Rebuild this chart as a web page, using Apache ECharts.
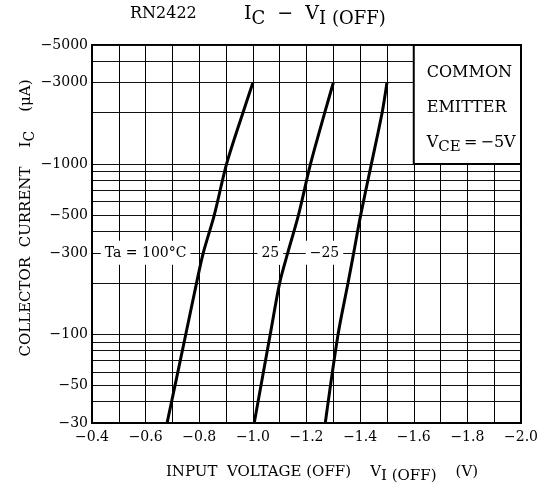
<!DOCTYPE html>
<html><head><meta charset="utf-8">
<script src="https://cdn.jsdelivr.net/npm/echarts@6/dist/echarts.min.js"></script>
<style>html,body{margin:0;padding:0;background:#fff}#c{width:550px;height:488px}</style>
</head><body><div id="c"></div>
<script>
// Input voltage V_I(OFF) (V) and collector current I_C (µA), both negative as in the chart
const vIoff100 = [-0.68, -0.75, -0.79, -0.815, -0.856, -0.902, -0.963, -1.0];
const iC100    = [-30, -100, -200, -300, -500, -1000, -2000, -3000];
const vIoff25  = [-1.005, -1.065, -1.10, -1.13, -1.17, -1.215, -1.268, -1.30];
const iC25     = [-30, -100, -200, -300, -500, -1000, -2000, -3000];
const vIoffM25 = [-1.27, -1.318, -1.355, -1.376, -1.402, -1.442, -1.482, -1.50];
const iCM25    = [-30, -100, -200, -300, -500, -1000, -2000, -3000];
const yTickLabels = [-30, -50, -100, -300, -500, -1000, -3000, -5000];
const yGridValues = [-30,-40,-50,-60,-70,-80,-90,-100,-200,-300,-400,-500,-600,-700,-800,-900,-1000,-2000,-3000,-4000,-5000];
const curveLabels = [
  {text: 'Ta = 100°C', v: -0.6, i: -300},
  {text: '25', v: -1.065, i: -300},
  {text: '−25', v: -1.267, i: -300}
];
const boxArea = {v1: -1.6, v2: -2.0, i1: -1000, i2: -5000};
const boxLines = ['COMMON', 'EMITTER', 'V{s|CE}\u2009=\u2009−5V'];

const FONT = '"DejaVu Serif", "Liberation Serif", serif';
const fmtMinus = v => '−' + String(v).replace('-', '');
const toPts = (xs, ys) => xs.map((x, k) => [x, Math.abs(ys[k])]);

const chart = echarts.init(document.getElementById('c'));
const lineSeries = (xs, ys) => ({
  type: 'line', data: toPts(xs, ys), symbol: 'none', smooth: 0.3,
  lineStyle: {color: '#000', width: 3}, z: 5, animation: false
});
const s1 = lineSeries(vIoff100, iC100);
const s2 = lineSeries(vIoff25, iC25);
const s3 = lineSeries(vIoffM25, iCM25);
s1.markPoint = {
  symbol: 'rect', symbolSize: 0, animation: false,
  data: curveLabels.map(c => ({coord: [c.v, Math.abs(c.i)], value: c.text})),
  label: {show: true, position: 'inside', formatter: p => p.value, color: '#000',
    fontFamily: FONT, fontSize: 14, backgroundColor: '#fff', padding: [5, 4]}
};
s1.markArea = {
  silent: true, animation: false,
  itemStyle: {color: '#fff', borderColor: '#000', borderWidth: 2, opacity: 1},
  label: {show: true, position: [14, 11],
    formatter: boxLines.join('\n'), color: '#000', fontFamily: FONT, fontSize: 16,
    lineHeight: 35, align: 'left', verticalAlign: 'top',
    rich: {s: {fontFamily: FONT, fontSize: 15, lineHeight: 35, padding: [9, 0, 0, 0]}}},
  data: [[{coord: [boxArea.v1, Math.abs(boxArea.i1)]}, {coord: [boxArea.v2, Math.abs(boxArea.i2)]}]]
};

chart.setOption({
  animation: false,
  grid: {left: 92, right: 29, top: 45, bottom: 65, show: true, borderColor: '#000', borderWidth: 2},
  xAxis: {
    type: 'value', inverse: true, min: -2.0, max: -0.4, interval: 0.1,
    axisLine: {show: true, lineStyle: {color: '#000', width: 2}},
    axisTick: {show: false},
    axisLabel: {color: '#000', fontFamily: FONT, fontSize: 14, margin: 7,
      formatter: v => (Math.round(Math.abs(v) * 10) % 2 === 0) ? '−' + Math.abs(v).toFixed(1) : ''},
    splitLine: {show: true, lineStyle: {color: '#000', width: 1}}
  },
  yAxis: {
    type: 'log', logBase: 10, min: 30, max: 5000,
    axisLine: {show: true, lineStyle: {color: '#000', width: 2}},
    axisTick: {show: false, customValues: yGridValues.map(Math.abs)},
    axisLabel: {color: '#000', fontFamily: FONT, fontSize: 14, margin: 4,
      customValues: yTickLabels.map(Math.abs), formatter: v => fmtMinus(Math.round(v))},
    splitLine: {show: true, lineStyle: {color: '#111', width: 1}}
  },
  graphic: [
    {type: 'text', left: 130, top: 6, style: {text: 'RN2422', font: '16px ' + FONT, fill: '#000'}},
    {type: 'text', left: 244, top: 5, style: {text: 'I{s|C}  −  V{s|I (OFF)}', font: '19px ' + FONT, fill: '#000',
      rich: {s: {fontFamily: FONT, fontSize: 18, padding: [9, 0, 0, 0]}}}},
    {type: 'text', x: 26, y: 218, rotation: Math.PI / 2,
      style: {text: 'COLLECTOR  CURRENT    I{s|C}    (μA)', font: '15px ' + FONT, fill: '#000',
        align: 'center', verticalAlign: 'middle',
        rich: {s: {fontFamily: FONT, fontSize: 14, padding: [8, 0, 0, 0]}}}},
    {type: 'text', x: 322, y: 472,
      style: {text: 'INPUT  VOLTAGE (OFF)    V{s|I (OFF)}    (V)', font: '15px ' + FONT, fill: '#000',
        align: 'center', verticalAlign: 'middle',
        rich: {s: {fontFamily: FONT, fontSize: 15, padding: [9, 0, 0, 0]}}}}
  ],
  series: [s1, s2, s3]
});
</script></body></html>
